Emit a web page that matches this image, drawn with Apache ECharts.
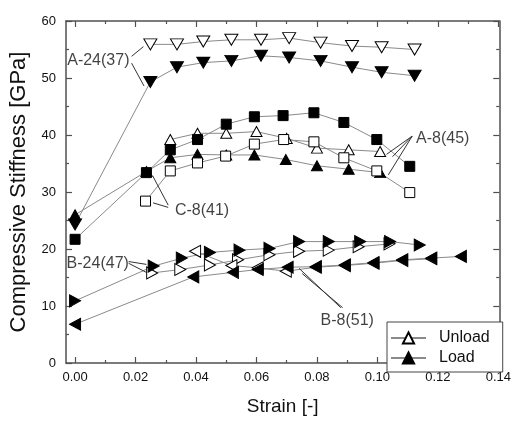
<!DOCTYPE html>
<html><head><meta charset="utf-8">
<script src="https://cdn.jsdelivr.net/npm/echarts@6/dist/echarts.min.js"></script>
<style>html,body{margin:0;padding:0;background:#fff}#c{width:514px;height:421px}</style>
</head><body><div id="c"></div>
<script>
// ---- tick values ----
const xTicks = [0, 0.02, 0.04, 0.06, 0.08, 0.10, 0.12, 0.14];
const xMinorTicks = [0.01, 0.03, 0.05, 0.07, 0.09, 0.11, 0.13];

// ---- A-24(37) ----
const a24UnloadX = [0.0249, 0.0337, 0.0424, 0.0517, 0.0615, 0.0708, 0.0812, 0.0916, 0.1014, 0.1123];
const a24UnloadY = [55.9, 55.9, 56.4, 56.7, 56.7, 57.0, 56.2, 55.6, 55.4, 55.0];
const a24LoadX = [0, 0.0249, 0.0337, 0.0424, 0.0517, 0.0615, 0.0708, 0.0812, 0.0916, 0.1014, 0.1123];
const a24LoadY = [24.3, 49.3, 51.9, 52.7, 53.0, 53.9, 53.6, 53.0, 51.9, 51.0, 50.4];

// ---- A-8(45) ----
const a8UnloadX = [0.0315, 0.0405, 0.0500, 0.0600, 0.0700, 0.0800, 0.0905, 0.1009];
const a8UnloadY = [39.2, 40.3, 40.3, 40.6, 39.4, 37.7, 37.4, 37.1];
const a8LoadX = [0, 0.0236, 0.0315, 0.0405, 0.0500, 0.0593, 0.0697, 0.0800, 0.0905, 0.1009];
const a8LoadY = [26.0, 33.6, 36.0, 36.6, 36.5, 36.5, 35.7, 34.6, 34.0, 33.4];

// ---- C-8(41) ----
const c8UnloadX = [0.0233, 0.0315, 0.0405, 0.0498, 0.0593, 0.0690, 0.0790, 0.0889, 0.0998, 0.1107];
const c8UnloadY = [28.4, 33.7, 35.1, 36.3, 38.4, 39.2, 38.8, 36.0, 33.7, 29.9];
const c8LoadX = [0, 0.0236, 0.0315, 0.0405, 0.0500, 0.0593, 0.0688, 0.0790, 0.0889, 0.0998, 0.1107];
const c8LoadY = [21.7, 33.4, 37.4, 39.2, 41.9, 43.2, 43.4, 43.9, 42.2, 39.2, 34.5];

// ---- B-24(47) ----
const b24UnloadX = [0.0255, 0.0348, 0.0446, 0.0539, 0.0643, 0.0741, 0.0839, 0.0938, 0.1040];
const b24UnloadY = [15.8, 16.4, 17.2, 18.1, 19.0, 19.6, 19.8, 20.4, 20.9];
const b24LoadX = [0, 0.0260, 0.0353, 0.0446, 0.0544, 0.0643, 0.0741, 0.0839, 0.0943, 0.1042, 0.1140];
const b24LoadY = [10.9, 17.0, 18.4, 19.4, 19.8, 20.1, 21.3, 21.3, 21.3, 21.3, 20.7];

// ---- B-8(51) ----
const b8UnloadX = [0.0397, 0.0517, 0.0604, 0.0697, 0.0796, 0.0892, 0.0987, 0.1082, 0.1178];
const b8UnloadY = [19.6, 17.1, 16.7, 16.1, 16.8, 17.1, 17.5, 18.0, 18.3];
const b8LoadX = [0, 0.0391, 0.0522, 0.0604, 0.0703, 0.0796, 0.0892, 0.0987, 0.1082, 0.1178, 0.1276];
const b8LoadY = [6.8, 15.1, 15.9, 16.4, 16.8, 16.9, 17.2, 17.6, 18.1, 18.4, 18.7];

// ---- annotation labels (text, x, y in data units) ----
const noteText = ['A-24(37)', 'C-8(41)', 'A-8(45)', 'B-24(47)', 'B-8(51)'];
const noteX = [0.0077, 0.0420, 0.1216, 0.0075, 0.0900];
const noteY = [53.0, 26.8, 39.4, 17.5, 7.4];
// leader lines: [x1, y1, x2, y2]
const leaders = [
  [0.0187, 53.8, 0.0226, 55.5],
  [0.0187, 52.6, 0.0228, 48.6],
  [0.0308, 27.3, 0.0258, 28.1],
  [0.0308, 27.7, 0.0256, 32.9],
  [0.1115, 39.8, 0.1030, 36.6],
  [0.1115, 39.8, 0.1050, 36.2],
  [0.1115, 39.8, 0.1036, 33.0],
  [0.0177, 17.8, 0.0236, 17.3],
  [0.0177, 17.5, 0.0243, 15.7],
  [0.0879, 9.7, 0.0741, 16.6],
  [0.0885, 9.7, 0.0751, 15.7]
];

const zip = (xs, ys) => xs.map((x, i) => [x, ys[i]]);
const LINE = '#8a8a8a';
const AXIS = '#505050';
const TXT = '#111';

function mk(name, xs, ys, symbol, size, rot, filled) {
  return {
    type: 'line', name: name, data: zip(xs, ys),
    symbol: symbol, symbolSize: size, symbolRotate: rot, showAllSymbol: true,
    lineStyle: { color: LINE, width: 1 },
    itemStyle: { color: filled ? '#000' : '#fff', borderColor: '#000', borderWidth: 1, opacity: 1 },
    emphasis: { disabled: true }, animation: false, silent: true
  };
}

const series = [
  mk('a24u', a24UnloadX, a24UnloadY, 'triangle', [13, 11], 180, false),
  mk('a24l', a24LoadX, a24LoadY, 'triangle', [13, 11], 180, true),
  mk('a8l', a8LoadX, a8LoadY, 'triangle', [11, 10], 0, true),
  mk('a8u', a8UnloadX, a8UnloadY, 'triangle', [11, 10], 0, false),
  mk('c8u', c8UnloadX, c8UnloadY, 'rect', 10, 0, false),
  mk('c8l', c8LoadX, c8LoadY, 'rect', 10, 0, true),
  mk('b24u', b24UnloadX, b24UnloadY, 'triangle', [12, 11], -90, false),
  mk('b24l', b24LoadX, b24LoadY, 'triangle', [12, 11], -90, true),
  mk('b8u', b8UnloadX, b8UnloadY, 'triangle', [12, 11], 90, false),
  mk('b8l', b8LoadX, b8LoadY, 'triangle', [12, 11], 90, true)
];

leaders.forEach((l, i) => series.push({
  type: 'line', name: 'lead' + i, data: [[l[0], l[1]], [l[2], l[3]]],
  symbol: 'none', lineStyle: { color: '#333', width: 1 }, silent: true, animation: false, z: 3
}));

const FONT = 'Liberation Sans, Arial, sans-serif';

series.push({
  type: 'scatter', name: 'notes', symbolSize: 0, silent: true, animation: false,
  data: noteText.map((t, i) => ({ value: [noteX[i], noteY[i]], name: t })),
  label: { show: true, position: 'inside', formatter: p => p.name, color: TXT,
           textBorderWidth: 0, fontFamily: FONT, fontSize: 16 },
  z: 4
});

// legend dummy series
series.push({ type: 'line', name: 'Unload', data: [], symbol: 'triangle', symbolSize: [13, 11],
  lineStyle: { color: LINE, width: 1 }, itemStyle: { color: '#fff', borderColor: '#000', borderWidth: 1 } });
series.push({ type: 'line', name: 'Load', data: [], symbol: 'triangle', symbolSize: [13, 11],
  lineStyle: { color: LINE, width: 1 }, itemStyle: { color: '#000', borderColor: '#000', borderWidth: 1 } });

const XMIN = -0.003, XMAX = 0.1403;

function xAx(pos, major, withLabel, showLine) {
  return {
    type: 'value', position: pos, min: XMIN, max: XMAX, offset: 0,
    axisLine: { show: showLine, onZero: false, lineStyle: { color: AXIS, width: 1.5 } },
    axisTick: { show: true, inside: true, length: major ? 6 : 3, customValues: major ? xTicks : xMinorTicks,
                lineStyle: { color: AXIS, width: 1.2 } },
    axisLabel: withLabel ? { show: true, customValues: xTicks, formatter: v => v.toFixed(2), margin: 8,
                color: TXT, fontSize: 13, fontFamily: FONT } : { show: false },
    splitLine: { show: false }
  };
}

const xAxes = [
  Object.assign(xAx('bottom', true, true, true), { name: 'Strain [-]', nameLocation: 'middle', nameGap: 34,
    nameTextStyle: { color: TXT, fontSize: 19, fontFamily: FONT } }),
  xAx('bottom', false, false, false),
  xAx('top', true, false, true),
  xAx('top', false, false, false)
];

function yAx(pos, withLabel) {
  return {
    type: 'value', position: pos, min: 0, max: 60, interval: 10,
    axisLine: { show: true, onZero: false, lineStyle: { color: AXIS, width: 1.5 } },
    axisTick: { show: true, inside: true, length: 6, lineStyle: { color: AXIS, width: 1.2 } },
    minorTick: { show: true, splitNumber: 2, length: 3, lineStyle: { color: AXIS, width: 1.2 } },
    axisLabel: withLabel ? { show: true, margin: 10, color: TXT, fontSize: 13, fontFamily: FONT } : { show: false },
    splitLine: { show: false }, minorSplitLine: { show: false }
  };
}
const yAxes = [
  Object.assign(yAx('left', true), { name: 'Compressive Stiffness [GPa]', nameLocation: 'middle', nameGap: 36,
    nameTextStyle: { color: TXT, fontSize: 22, fontFamily: FONT } }),
  yAx('right', false)
];

const chart = echarts.init(document.getElementById('c'), null, { renderer: 'canvas' });
chart.setOption({
  animation: false,
  backgroundColor: '#fff',
  grid: { left: 65, right: 12, top: 21, bottom: 53, containLabel: false },
  xAxis: xAxes,
  yAxis: yAxes,
  legend: {
    data: ['Unload', 'Load'], orient: 'vertical', left: 387, top: 322,
    padding: [8, 13, 6, 3], itemGap: 4, itemWidth: 35, itemHeight: 14,
    borderColor: '#444', borderWidth: 1, backgroundColor: '#fff',
    textStyle: { color: TXT, fontSize: 16, fontFamily: FONT, padding: [0, 0, 0, 8], lineHeight: 16 },
    selectedMode: false
  },
  series: series
});
</script>
</body></html>
